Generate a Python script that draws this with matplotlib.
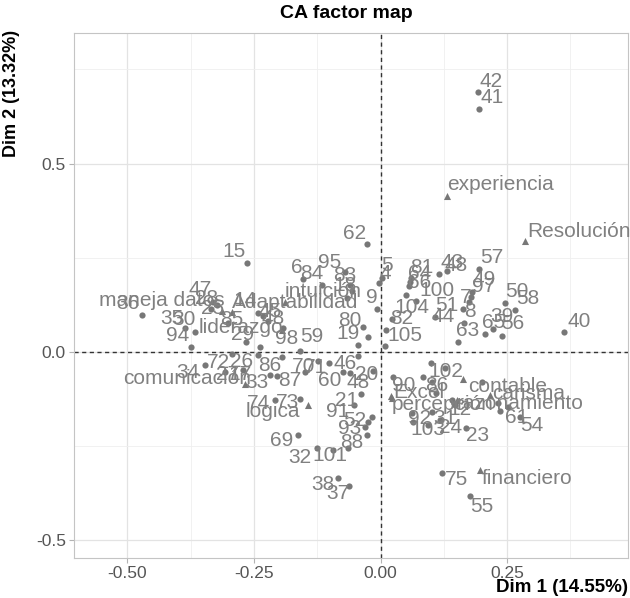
import matplotlib
matplotlib.use("Agg")
import matplotlib.pyplot as plt

# ---------------- data ----------------
row_names = ["42", "41", "57", "43", "48", "81", "64", "66", "100", "49", "97", "7",
             "104", "51", "8", "44", "82", "105", "63", "50", "58", "39", "65", "56",
             "40", "1", "5", "4", "62", "15", "6", "84", "95", "83", "18", "99", "9",
             "14", "45", "48", "85", "29", "98", "59", "19", "80", "89", "47", "28",
             "25", "36", "35", "30", "94", "72", "26", "86", "2", "34", "27", "17",
             "33", "87", "70", "71", "46", "76", "60", "48", "20", "74", "73", "21",
             "91", "52", "53", "93", "67", "88", "69", "32", "101", "38", "37", "102",
             "3", "90", "86", "12", "92", "22", "31", "103", "24", "23", "61", "10",
             "54", "75", "55", "11", "13", "77", "78", "79"]
row_x = [0.193, 0.195, 0.195, 0.131, 0.116, 0.060, 0.058, 0.056, 0.050, 0.181, 0.179, 0.175,
         0.070, 0.163, 0.165, 0.108, 0.023, 0.011, 0.153, 0.246, 0.266, 0.222, 0.207, 0.240,
         0.363, 0.009, 0.003, -0.003, -0.027, -0.264, -0.153, -0.116, -0.070, -0.060, -0.056, -0.066, -0.007,
         -0.242, -0.232, -0.222, -0.301, -0.266, -0.193, -0.159, -0.044, -0.035, -0.025, -0.331, -0.323,
         -0.335, -0.471, -0.386, -0.366, -0.374, -0.293, -0.242, -0.195, -0.238, -0.347, -0.307, -0.272,
         -0.218, -0.205, -0.149, -0.124, -0.102, -0.044, -0.074, -0.060, -0.015, -0.208, -0.159, -0.039,
         -0.052, -0.017, -0.025, -0.031, -0.027, -0.064, -0.163, -0.125, -0.094, -0.084, -0.062, 0.100,
         0.127, 0.025, 0.084, 0.147, 0.062, 0.064, 0.102, 0.094, 0.118, 0.169, 0.236, 0.252,
         0.276, 0.122, 0.177, 0.102, 0.110, 0.141, 0.201, 0.232]
row_y = [0.690, 0.645, 0.219, 0.214, 0.206, 0.195, 0.185, 0.174, 0.150, 0.158, 0.145, 0.132,
         0.134, 0.113, 0.076, 0.092, 0.086, 0.057, 0.025, 0.129, 0.110, 0.060, 0.047, 0.041,
         0.052, 0.015, 0.195, 0.182, 0.286, 0.235, 0.193, 0.177, 0.211, 0.177, 0.161, 0.142, 0.113,
         0.102, 0.094, 0.081, 0.076, 0.025, 0.063, 0.001, 0.017, 0.065, 0.039, 0.132, 0.124,
         0.113, 0.097, 0.063, 0.052, 0.012, -0.007, -0.009, -0.015, 0.012, -0.036, -0.055, -0.049,
         -0.062, -0.065, -0.055, -0.025, -0.031, -0.012, -0.055, -0.057, -0.052, -0.129, -0.126, -0.113,
         -0.142, -0.174, -0.188, -0.201, -0.222, -0.257, -0.222, -0.257, -0.262, -0.336, -0.358, -0.031,
         -0.044, -0.068, -0.068, -0.142, -0.164, -0.188, -0.161, -0.195, -0.182, -0.203, -0.158, -0.148,
         -0.174, -0.323, -0.384, -0.082, -0.110, -0.129, -0.081, -0.137]

col_names = ["experiencia", "Resolución", "financiero", "contable", "carisma",
             "razonamiento", "percepción", "Excel", "logica", "comunicación",
             "liderazgo", "Adaptabilidad", "intuición", "maneja datos"]
col_x = [0.131, 0.286, 0.197, 0.163, 0.216, 0.151, 0.023, 0.021, -0.143, -0.268,
         -0.195, -0.293, -0.189, -0.313]
col_y = [0.414, 0.294, -0.315, -0.073, -0.116, -0.129, -0.124, -0.118, -0.142, -0.086,
         0.057, 0.105, 0.132, 0.108]

x_ticks = [-0.50, -0.25, 0.00, 0.25]
x_ticklabels = ["-0.50", "-0.25", "0.00", "0.25"]
y_ticks = [-0.5, 0.0, 0.5]
y_ticklabels = ["-0.5", "0.0", "0.5"]
title = "CA factor map"
xlabel = "Dim 1 (14.55%)"
ylabel = "Dim 2 (13.32%)"

# ---------------- layout (label offsets in pixels: dx right, dy down) ----------------
row_off = {
    0: (13, -11), 1: (13, -11), 2: (13, -12), 3: (5, -9), 4: (17, -9), 5: (11, -11),
    6: (10, -8), 7: (11, -4), 8: (31, -5), 9: (12, -13), 10: (13, -11), 11: (-3, -4),
    12: (-4, 6), 13: (-16, -4), 14: (6, -11), 15: (8, 0), 16: (10, -1), 17: (19, 5),
    18: (10, -12), 19: (12, -12), 20: (13, -12), 21: (9, -13), 22: (8, -11), 23: (11, -13),
    24: (15, -11), 26: (5, -13), 27: (6, -10), 28: (-12, -11), 29: (-13, -12),
    30: (-6, -11), 31: (-10, -12), 32: (-15, -10), 33: (-5, -10), 34: (-7, -6),
    36: (-5, -12), 37: (-13, -13), 38: (7, -5), 39: (5, -3), 40: (4, -3), 41: (-3, -8),
    42: (4, 11), 43: (12, -15), 44: (-10, -12), 45: (-13, -7), 47: (-13, -12),
    48: (-10, -6), 49: (2, -1), 50: (-14, -12), 51: (-13, -9), 52: (-11, -13),
    53: (-14, -12), 54: (-14, 8), 55: (-16, 7), 56: (-12, 8), 58: (-17, 7), 59: (2, 2),
    60: (-3, 4), 61: (-13, 8), 62: (13, 4), 63: (-2, -6), 64: (-2, 7), 65: (16, 0),
    67: (-13, 8), 68: (8, 9), 69: (-6, 3), 70: (-17, 3), 71: (-13, 4), 72: (-14, 6),
    73: (-17, 7), 74: (-17, 3), 76: (-15, 1), 78: (4, -6), 79: (-16, 5), 80: (-17, 9),
    81: (-3, 5), 82: (-15, 7), 83: (-11, 7), 84: (15, 8), 86: (11, 8), 87: (14, 8),
    88: (5, 5), 89: (8, 5), 91: (13, 6), 92: (0, 5), 93: (10, 7), 94: (12, 8),
    95: (17, 6), 97: (12, 8), 98: (14, 6), 99: (12, 10),
}
# columns: (dx, dy, ha)
col_off = [(0, -11, "left"), (2, -9, "left"), (2, 8, "left"), (5, 7, "left"),
           (2, -2, "left"), (0, 3, "left"), (0, 6, "left"), (2, -3, "left"),
           (-8, 7, "right"), (6, -5, "right"), (1, -3, "right"), (0, -10, "left"),
           (0, -10, "left"), (3, -10, "right")]

PX = 0.72  # points per pixel at dpi 100
LBL_COLOR = "#808080"
PT_COLOR = "#777777"
LBL_SIZE = 15

plt.rcParams["font.family"] = ["Liberation Sans", "DejaVu Sans"]

fig = plt.figure(figsize=(6.30, 5.98), dpi=100)
ax = fig.add_axes([74.3 / 630, 1 - 557.7 / 598, (628 - 74.3) / 630, (557.7 - 33) / 598])

ax.set_xlim(-0.605, 0.489)
ax.set_ylim(-0.548, 0.847)

ax.set_xticks(x_ticks)
ax.set_xticklabels(x_ticklabels)
ax.set_yticks(y_ticks)
ax.set_yticklabels(y_ticklabels)
ax.set_xticks([-0.375, -0.125, 0.125, 0.375], minor=True)
ax.set_yticks([-0.25, 0.25, 0.75], minor=True)
ax.grid(True, which="major", color="#e3e3e3", linewidth=0.9)
ax.grid(True, which="minor", color="#efefef", linewidth=0.6)
ax.set_axisbelow(True)
ax.tick_params(axis="both", which="major", length=3.5, width=0.8, color="#b3b3b3",
               labelcolor="#555555", labelsize=12.5, pad=2.5)
ax.tick_params(axis="both", which="minor", length=0)
for s in ax.spines.values():
    s.set_color("#c4c4c4")
    s.set_linewidth(0.8)

ax.axhline(0, color="#333333", linestyle=(0, (3, 2.5)), linewidth=1.0, zorder=1.5)
ax.axvline(0, color="#333333", linestyle=(0, (3, 2.5)), linewidth=1.0, zorder=1.5)

ax.scatter(row_x, row_y, s=20, color=PT_COLOR, marker="o", linewidths=0, zorder=3)
ax.scatter(col_x, col_y, s=26, color=PT_COLOR, marker="^", linewidths=0, zorder=3)

for i, (n, x, y) in enumerate(zip(row_names, row_x, row_y)):
    if i not in row_off:
        continue
    dx, dy = row_off[i]
    t = ax.annotate(n, (x, y), xytext=(dx * PX, -dy * PX), textcoords="offset points",
                    ha="center", va="center", fontsize=LBL_SIZE, color=LBL_COLOR, zorder=4)
    t.set_clip_on(True)

for n, x, y, (dx, dy, ha) in zip(col_names, col_x, col_y, col_off):
    t = ax.annotate(n, (x, y), xytext=(dx * PX, -dy * PX), textcoords="offset points",
                    ha=ha, va="center", fontsize=LBL_SIZE, color=LBL_COLOR, zorder=4)
    t.set_clip_on(True)

fig.text(346 / 630, 1 - 14 / 598, title, ha="center", va="center", fontsize=14,
         fontweight="bold", color="black")
fig.text(628 / 630, 1 - 588 / 598, xlabel, ha="right", va="center", fontsize=13.5,
         fontweight="bold", color="black")
fig.text(12 / 630, 1 - 30 / 598, ylabel, ha="center", va="top", rotation=90,
         fontsize=13, fontweight="bold", color="black")

fig.savefig("out.png", dpi=100)
